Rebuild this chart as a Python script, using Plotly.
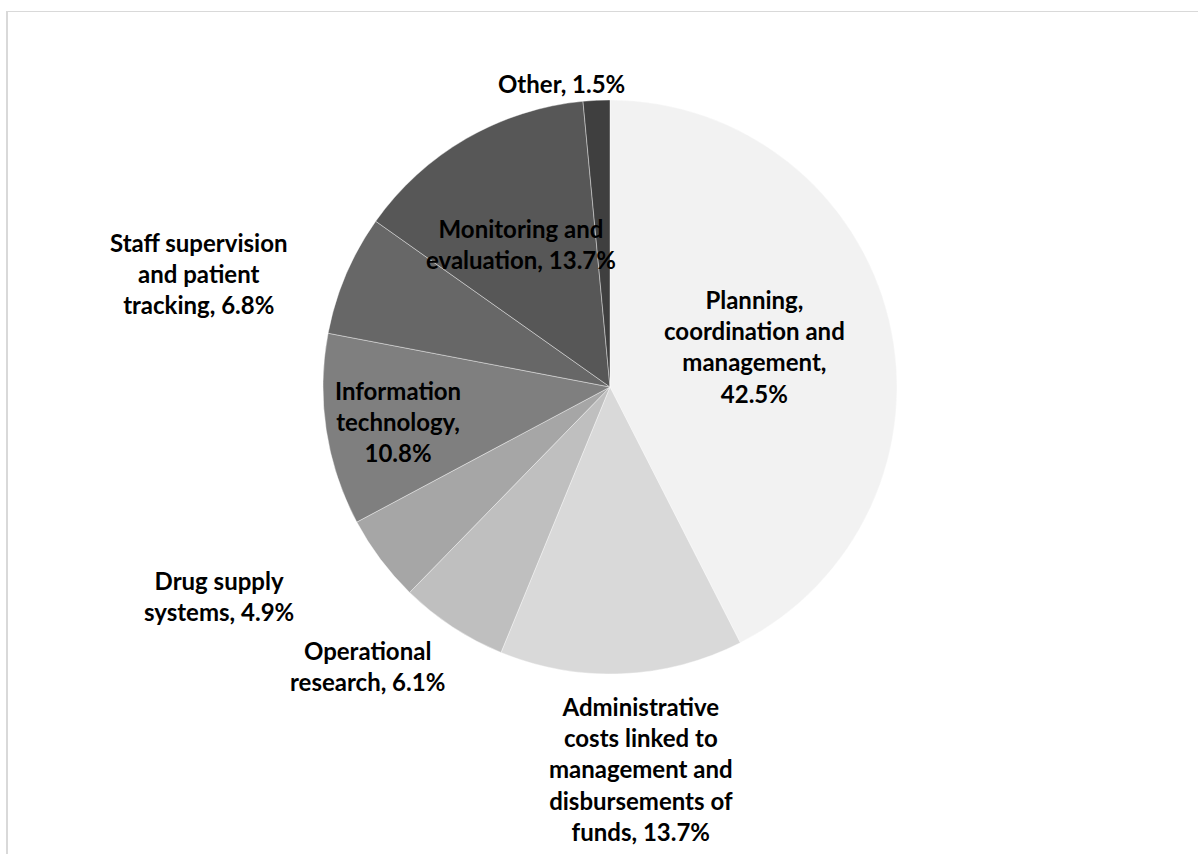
import plotly.graph_objects as go

# ---- data ----
categories = [
    "Planning, coordination and management",
    "Administrative costs linked to management and disbursements of funds",
    "Operational research",
    "Drug supply systems",
    "Information technology",
    "Staff supervision and patient tracking",
    "Monitoring and evaluation",
    "Other",
]
values = [42.5, 13.7, 6.1, 4.9, 10.8, 6.8, 13.7, 1.5]
label_templates = [
    "Planning,<br>coordination and<br>management,<br>{v}%",
    "Administrative<br>costs linked to<br>management and<br>disbursements of<br>funds, {v}%",
    "Operational<br>research, {v}%",
    "Drug supply<br>systems, {v}%",
    "Information<br>technology,<br>{v}%",
    "Staff supervision<br>and patient<br>tracking, {v}%",
    "Monitoring and<br>evaluation, {v}%",
    "Other, {v}%",
]

# ---- styles / layout ----
colors = ["#F2F2F2", "#D9D9D9", "#BFBFBF", "#A6A6A6", "#7F7F7F", "#676767", "#575757", "#3F3F3F"]
# label block centres in pixels (x, y)
label_pos_px = [(754, 346), (641, 769), (367, 666), (219, 596), (398, 421), (199, 273), (521, 244), (561, 83)]

W, H = 1198, 854
cx, cy, r = 610, 387, 287

fig = go.Figure(go.Pie(
    labels=categories,
    values=values,
    sort=False,
    direction="clockwise",
    rotation=0,
    textinfo="none",
    hoverinfo="label+percent",
    marker=dict(colors=colors, line=dict(color="#FFFFFF", width=0.4)),
    domain=dict(x=[(cx - r) / W, (cx + r) / W], y=[1 - (cy + r) / H, 1 - (cy - r) / H]),
    showlegend=False,
))

for tmpl, v, (px, py) in zip(label_templates, values, label_pos_px):
    fig.add_annotation(
        text="<b>" + tmpl.format(v=f"{v:.1f}") + "</b>",
        x=px / W, y=1 - py / H, xref="paper", yref="paper",
        xanchor="center", yanchor="middle", align="center",
        showarrow=False,
        font=dict(family="Lato", size=24, color="#000000"),
    )

# outer chart frame (partially visible: top and left edges)
fig.add_shape(type="line", xref="paper", yref="paper",
              x0=6 / W, x1=1.0, y0=1 - 11.5 / H, y1=1 - 11.5 / H,
              line=dict(color="#D9D9D9", width=1.2))
fig.add_shape(type="line", xref="paper", yref="paper",
              x0=7 / W, x1=7 / W, y0=0, y1=1 - 11 / H,
              line=dict(color="#D9D9D9", width=2))

fig.update_layout(
    width=W, height=H,
    margin=dict(l=0, r=0, t=0, b=0),
    paper_bgcolor="#FFFFFF",
    plot_bgcolor="#FFFFFF",
)

fig.write_html("out.html", config={"displayModeBar": False},
               post_script="document.body.style.margin='0';")
